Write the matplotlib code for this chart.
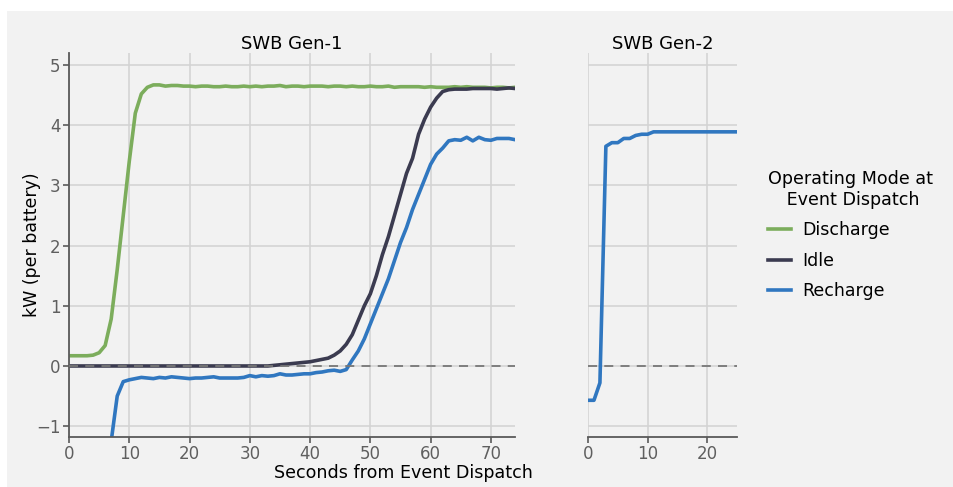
import matplotlib
matplotlib.use('Agg')
import matplotlib.pyplot as plt
from matplotlib.patches import Rectangle
import numpy as np

# Gen-1 traces, one sample per second (0..74 s)
gen1_seconds = list(range(75))
discharge = [0.17, 0.17, 0.17, 0.17, 0.18, 0.22, 0.34, 0.78, 1.6, 2.5,
             3.4, 4.2, 4.52, 4.63, 4.67, 4.67, 4.65, 4.66, 4.66, 4.65,
             4.65, 4.64, 4.65, 4.65, 4.64, 4.64, 4.65, 4.64, 4.64, 4.65,
             4.64, 4.65, 4.64, 4.65, 4.65, 4.66, 4.64, 4.65, 4.65, 4.64,
             4.65, 4.65, 4.65, 4.64, 4.65, 4.65, 4.64, 4.65, 4.64, 4.64,
             4.65, 4.64, 4.64, 4.65, 4.63, 4.64, 4.64, 4.64, 4.64, 4.63,
             4.64, 4.63, 4.63, 4.63, 4.64, 4.63, 4.64, 4.63, 4.63, 4.63,
             4.62, 4.63, 4.63, 4.62, 4.63]
idle = [0.0, 0.0, 0.0, 0.0, 0.0, 0.0, 0.0, 0.0, 0.0, 0.0,
        0.0, 0.0, 0.0, 0.0, 0.0, 0.0, 0.0, 0.0, 0.0, 0.0,
        0.0, 0.0, 0.0, 0.0, 0.0, 0.0, 0.0, 0.0, 0.0, 0.0,
        0.0, 0.0, 0.0, 0.0, 0.01, 0.02, 0.03, 0.04, 0.05, 0.06,
        0.07, 0.09, 0.11, 0.13, 0.18, 0.25, 0.36, 0.52, 0.76, 1.0,
        1.2, 1.5, 1.85, 2.15, 2.5, 2.85, 3.2, 3.45, 3.85, 4.1,
        4.3, 4.45, 4.56, 4.59, 4.6, 4.6, 4.6, 4.61, 4.61, 4.61,
        4.61, 4.6, 4.61, 4.62, 4.61]
recharge = [-3.7, -3.7, -3.7, -3.7, -3.7, -3.7, -3.7, -1.25, -0.5, -0.26,
            -0.23, -0.21, -0.19, -0.2, -0.21, -0.19, -0.2, -0.18, -0.19, -0.2,
            -0.21, -0.2, -0.2, -0.19, -0.18, -0.2, -0.2, -0.2, -0.2, -0.19,
            -0.16, -0.18, -0.16, -0.17, -0.16, -0.13, -0.15, -0.15, -0.14, -0.13,
            -0.13, -0.11, -0.1, -0.08, -0.07, -0.09, -0.06, 0.1, 0.25, 0.45,
            0.7, 0.95, 1.2, 1.45, 1.75, 2.05, 2.3, 2.6, 2.85, 3.1,
            3.35, 3.52, 3.62, 3.74, 3.76, 3.75, 3.8, 3.74, 3.8, 3.76,
            3.75, 3.78, 3.78, 3.78, 3.76]

# Gen-2 recharge trace (0..25 s)
gen2_seconds = list(range(26))
gen2_recharge = [-0.57, -0.57, -0.28, 3.65, 3.71, 3.71, 3.78, 3.78, 3.83, 3.85,
                 3.85, 3.89, 3.89, 3.89, 3.89, 3.89, 3.89, 3.89, 3.89, 3.89,
                 3.89, 3.89, 3.89, 3.89, 3.89, 3.89]

labels = ['Discharge', 'Idle', 'Recharge']
colors = ['#7cad5c', '#3b3b50', '#3077c0']

bg = '#f2f2f2'
grid_c = '#d4d4d4'
spine_c = '#5a5a5a'
tick_c = '#5f5f5f'

fig = plt.figure(figsize=(9.54, 4.87), dpi=100, facecolor='white')
fig.patches.append(Rectangle((7 / 954, 0), 1, 1 - 11 / 487, transform=fig.transFigure,
                             facecolor=bg, edgecolor='none', zorder=-10))

ax1 = fig.add_axes([69 / 954, 1 - 437 / 487, 446 / 954, 384 / 487])
ax2 = fig.add_axes([588 / 954, 1 - 437 / 487, 149 / 954, 384 / 487], sharey=ax1)

for ax in (ax1, ax2):
    ax.set_facecolor(bg)
    ax.grid(True, color=grid_c, lw=1.2)
    ax.set_axisbelow(True)
    for s in ('top', 'right'):
        ax.spines[s].set_visible(False)
    for s in ('left', 'bottom'):
        ax.spines[s].set_color(spine_c)
        ax.spines[s].set_linewidth(1.3)
    ax.tick_params(colors=spine_c, labelcolor=tick_c, labelsize=12, length=4, width=1.2, pad=2)
    ax.axhline(0, color='#777777', lw=1.3, ls=(0, (5, 4)), zorder=5)

ax1.plot(gen1_seconds, discharge, color=colors[0], lw=2.6, label=labels[0])
ax1.plot(gen1_seconds, idle, color=colors[1], lw=2.6, label=labels[1])
ax1.plot(gen1_seconds, recharge, color=colors[2], lw=2.6, label=labels[2])
ax2.plot(gen2_seconds, gen2_recharge, color=colors[2], lw=2.6)

ax1.set_xlim(0, 74)
ax1.set_ylim(-1.18, 5.2)
ax1.set_xticks(range(0, 71, 10))
ax1.set_yticks(range(-1, 6))
ax2.set_xlim(0, 25)
ax2.set_xticks([0, 10, 20])
ax2.spines['left'].set_visible(False)
ax2.tick_params(axis='y', left=False, labelleft=False)

ax1.set_title('SWB Gen-1', fontsize=13, pad=2)
ax2.set_title('SWB Gen-2', fontsize=13, pad=2)
ax1.set_ylabel('kW (per battery)', fontsize=12.5)
ax1.yaxis.set_label_coords(-0.063, 0.5)
fig.text(403 / 954, 1 - 473 / 487, 'Seconds from Event Dispatch', ha='center', va='center', fontsize=12.6)

leg = fig.legend(*ax1.get_legend_handles_labels(), loc='center left',
                 bbox_to_anchor=(752 / 954, 1 - 235 / 487), frameon=False,
                 title='Operating Mode at\n Event Dispatch', fontsize=12.5, title_fontsize=12.6,
                 handlelength=1.35, handletextpad=0.65, labelspacing=0.72)
leg._legend_box.align = 'left'
leg.get_title().set_multialignment('center')

fig.savefig('out.png', dpi=100, facecolor='white')
